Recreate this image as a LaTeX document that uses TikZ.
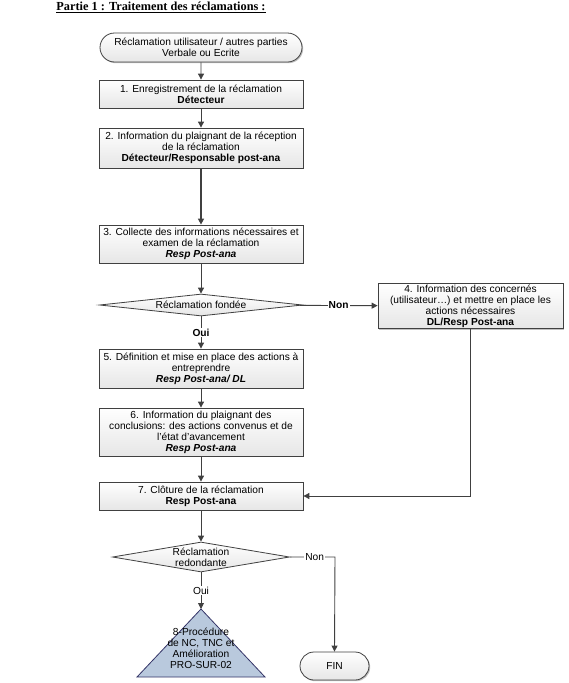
\documentclass[tikz,border=0pt]{standalone}
\usepackage{fontspec}
\setmainfont{Liberation Sans}
\newfontfamily\titlefont{Liberation Serif}
\usetikzlibrary{shapes.geometric,shapes.misc,shadows,arrows.meta}
\definecolor{lineC}{HTML}{404040}
\definecolor{boxBot}{HTML}{E6E6E6}
\definecolor{triC}{HTML}{B9C9DD}
\newcommand{\fsz}{\fontsize{10.2}{11}\selectfont}
\tikzset{
  stepbox/.style={draw=lineC, line width=0.8pt, top color=white, bottom color=boxBot,
    drop shadow={shadow xshift=1.2pt, shadow yshift=-1.2pt, fill=gray!60, opacity=0.8},
    align=center, font=\fsz, inner sep=1pt, minimum width=204pt},
  termbox/.style={stepbox, rounded rectangle},
  decbox/.style={draw=lineC, line width=0.8pt, top color=white, bottom color=boxBot,
    diamond, align=center, font=\fsz, inner sep=0pt},
  conn/.style={draw=lineC, line width=0.9pt, -{Triangle[length=6pt,width=6pt]}},
  lbl/.style={fill=white, inner sep=1pt, font=\fsz},
}
\begin{document}
\begin{tikzpicture}[x=1pt,y=-1pt]
\useasboundingbox (0,0) rectangle (568,683);
\node[font=\titlefont\bfseries\fontsize{12.3}{14}\selectfont] (title) at (161,7.5) {\underline{Partie 1 : Traitement des réclamations :}};

\node[termbox, minimum height=29pt] (start) at (201,47.5) {Réclamation utilisateur / autres parties\\Verbale ou Ecrite};
\node[stepbox, minimum height=28pt] (b1) at (201,94) {1. Enregistrement de la réclamation\\\textbf{Détecteur}};
\node[stepbox, minimum height=40pt] (b2) at (201,148) {2. Information du plaignant de la réception\\de la réclamation\\\textbf{Détecteur/Responsable post-ana}};
\node[stepbox, minimum height=38pt] (b3) at (201,244) {3. Collecte des informations nécessaires et\\examen de la réclamation\\\textbf{\textit{Resp Post-ana}}};
\node[decbox, aspect=9, minimum width=203pt, minimum height=22pt] (d1) at (201,305) {Réclamation fondée};
\node[stepbox, minimum width=185pt, minimum height=40pt] (b4) at (470.5,306) {4. Information des concernés\\(utilisateur…) et mettre en place les\\actions nécessaires\\\textbf{DL/Resp Post-ana}};
\node[stepbox, minimum height=39pt] (b5) at (201,368.5) {5. Définition et mise en place des actions à\\entreprendre\\\textbf{\textit{Resp Post-ana/ DL}}};
\node[stepbox, minimum height=48pt] (b6) at (201,432) {6. Information du plaignant des\\conclusions: des actions convenus et de\\l'état d'avancement\\\textbf{\textit{Resp Post-ana}}};
\node[stepbox, minimum height=28pt] (b7) at (201,496) {7. Clôture de la réclamation\\\textbf{Resp Post-ana}};
\node[decbox, aspect=6, minimum width=177pt, minimum height=30pt] (d2) at (201,557) {Réclamation\\redondante};

\coordinate (apex) at (201,609);
\draw[draw=lineC!80!blue, line width=0.8pt, fill=triC] (apex) -- (265,677) -- (137,677) -- cycle;
\node[align=center, font=\fsz, inner sep=0pt] (t8) at (201,648) {8-Procédure\\de NC, TNC et\\Amélioration\\PRO-SUR-02};

\node[termbox, minimum width=71pt, minimum height=28pt] (fin) at (334.5,666) {FIN};

\draw[conn] (start) -- (b1);
\draw[conn] (b1) -- (b2);
\draw[conn, line width=1.5pt] (b2) -- (b3);
\draw[conn] (b3) -- (d1);
\draw[conn] (d1) -- node[lbl, font=\fsz\bfseries] {Non} (b4);
\draw[conn] (d1) -- node[lbl, font=\fsz\bfseries, pos=0.5] {Oui} (b5);
\draw[conn] (b5) -- (b6);
\draw[conn] (b6) -- (b7);
\draw[conn] (b4.south) |- (b7.east);
\draw[conn] (b7) -- (d2);
\draw[conn] (d2) -- node[lbl] {Oui} (apex);
\draw[conn] (d2.east) -- node[lbl, pos=0.55] {Non} (335,557) -- (fin.north);
\end{tikzpicture}
\end{document}
